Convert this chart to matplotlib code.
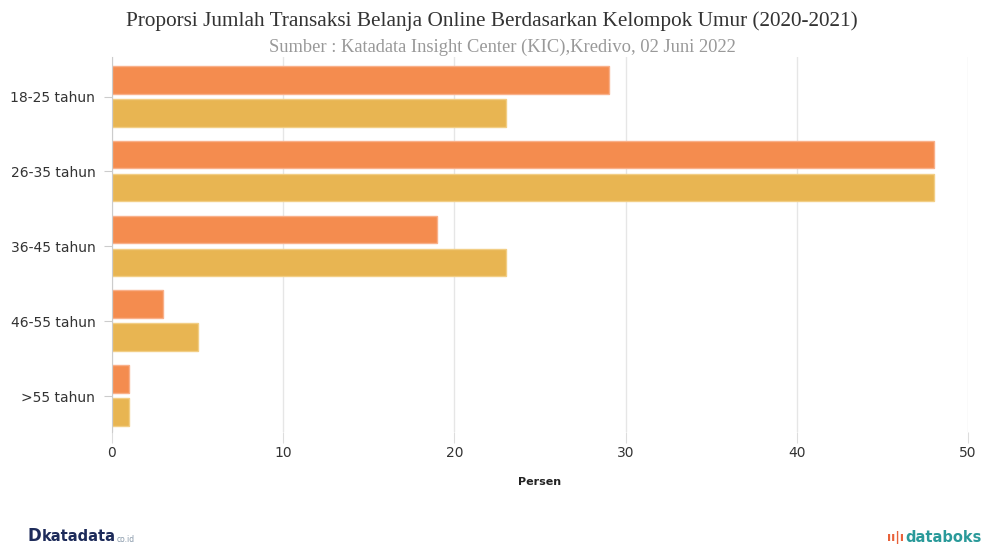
import numpy as np
import matplotlib.pyplot as plt

kelompok = ['18-25 tahun', '26-35 tahun', '36-45 tahun', '46-55 tahun', '>55 tahun']
tahun_2020 = [29, 48, 19, 3, 1]
tahun_2021 = [23, 48, 23, 5, 1]

fig = plt.figure(figsize=(9.84, 5.46), dpi=100)
ax = fig.add_axes([0.1138, 0.2088, 0.87, 0.687])

y = np.arange(len(kelompok))
h = 0.37
ax.barh(y - 0.225, tahun_2020, height=h, color='#F48C4F', edgecolor='#F9B08A', linewidth=1, zorder=2)
ax.barh(y + 0.215, tahun_2021, height=h, color='#E8B552', edgecolor='#F2CE85', linewidth=1, zorder=2)

ax.set_xlim(0, 50)
ax.set_ylim(4.48, -0.53)
ax.set_xticks(range(0, 51, 10))
ax.set_yticks(y)
ax.set_yticklabels(kelompok)
ax.grid(axis='x', color='#e6e6e6', linewidth=1, zorder=0)
for s in ['top', 'right', 'bottom']:
    ax.spines[s].set_visible(False)
ax.spines['left'].set_color('#cccccc')
ax.tick_params(axis='x', length=8, color='#dddddd', labelsize=10, labelcolor='#333333', pad=2)
ax.tick_params(axis='y', length=6, color='#cccccc', labelsize=10, labelcolor='#333333', pad=6)
ax.set_xlabel('Persen', fontsize=8, fontweight='bold', color='#222222', labelpad=12)

fig.text(0.5, 0.962, 'Proporsi Jumlah Transaksi Belanja Online Berdasarkan Kelompok Umur (2020-2021)',
         ha='center', va='center', fontsize=15.3, family='Liberation Serif', color='#333333')
fig.text(0.511, 0.914, 'Sumber : Katadata Insight Center (KIC),Kredivo, 02 Juni 2022',
         ha='center', va='center', fontsize=13.3, family='Liberation Serif', color='#999999')

# logo-logo di bawah
fig.text(0.028, 0.002, 'D', fontsize=12, fontweight='bold', color='#1d2b5a', va='bottom')
fig.text(0.042, 0.004, 'katadata', fontsize=10.5, fontweight='bold', color='#1d2b5a', va='bottom')
fig.text(0.119, 0.004, 'co.id', fontsize=5.5, color='#8899aa', va='bottom')
fig.text(0.919, 0.004, 'ıı|ı', fontsize=9, fontweight='bold', color='#e8623a', va='bottom', ha='right')
fig.text(0.998, 0.002, 'databoks', fontsize=10.5, fontweight='bold', color='#2a9a9a', va='bottom', ha='right')

fig.savefig('out.png', dpi=100)
